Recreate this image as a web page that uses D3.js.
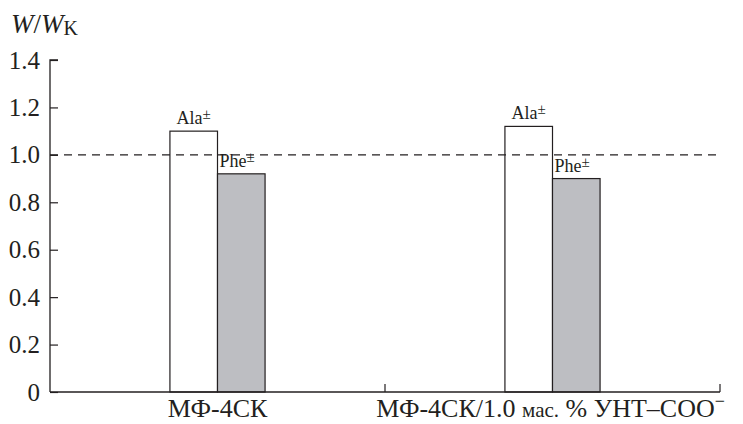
<!DOCTYPE html>
<html>
<head>
<meta charset="utf-8">
<script src="https://cdn.jsdelivr.net/npm/d3@7"></script>
<style>
  body { margin: 0; background: #fff; }
  svg { display: block; }
  svg text { font-family: "Liberation Serif", "DejaVu Serif", serif !important; }
</style>
</head>
<body>
<div id="chart"></div>
<script>
const categories = ["МФ-4СК", "МФ-4СК/1.0 мас. % УНТ–СОО"];
const series = ["Ala", "Phe"];
const alaValues = [1.10, 1.12];
const pheValues = [0.92, 0.90];
const yTicks = [0, 0.2, 0.4, 0.6, 0.8, 1.0, 1.2, 1.4];
const refLevel = 1.0;

const width = 743;
const height = 424;
const margin = { left: 50, right: 23, top: 60, bottom: 32 };
const ink = "#231f20";
const serif = "'Liberation Serif', serif";

const svg = d3.select("#chart").append("svg")
  .attr("width", width)
  .attr("height", height)
  .attr("font-family", serif);

const x = d3.scaleBand()
  .domain(categories)
  .range([margin.left, width - margin.right]);

const y = d3.scaleLinear()
  .domain([0, 1.4])
  .range([height - margin.bottom, margin.top]);

const barW = x.bandwidth() * 0.142;

const rows = categories.map((c, i) => ({ cat: c, ala: alaValues[i], phe: pheValues[i] }));

// bars
const g = svg.append("g");
rows.forEach((d) => {
  const cx = x(d.cat) + x.bandwidth() / 2;
  g.append("rect")
    .attr("x", cx - barW)
    .attr("y", y(d.ala))
    .attr("width", barW)
    .attr("height", y(0) - y(d.ala))
    .attr("fill", "#fff")
    .attr("stroke", ink)
    .attr("stroke-width", 1.2);
  g.append("rect")
    .attr("x", cx)
    .attr("y", y(d.phe))
    .attr("width", barW)
    .attr("height", y(0) - y(d.phe))
    .attr("fill", "#bdbec2")
    .attr("stroke", ink)
    .attr("stroke-width", 1.2);

  const ala = g.append("text")
    .attr("x", cx - barW / 2)
    .attr("y", y(d.ala) - 7)
    .attr("text-anchor", "middle")
    .style("font-size", "18px")
    .attr("fill", ink);
  ala.append("tspan").text(series[0]);
  ala.append("tspan").attr("dy", -5).style("font-size", "15px").text("±");

  const phe = g.append("text")
    .attr("x", cx + 2)
    .attr("y", y(d.phe) - 7)
    .style("font-size", "18px")
    .attr("fill", ink);
  phe.append("tspan").text(series[1]);
  phe.append("tspan").attr("dy", -5).style("font-size", "15px").text("±");
});

// reference dashed line
svg.append("line")
  .attr("x1", margin.left)
  .attr("x2", width - margin.right)
  .attr("y1", y(refLevel))
  .attr("y2", y(refLevel))
  .attr("stroke", ink)
  .attr("stroke-width", 1.2)
  .attr("stroke-dasharray", "8,6");

// y axis
const yAxis = svg.append("g")
  .attr("transform", `translate(${margin.left},0)`)
  .call(d3.axisRight(y).tickValues(yTicks).tickSize(8).tickFormat((d) => d === 0 ? "0" : d3.format(".1f")(d)))
  .attr("font-family", serif);
yAxis.select(".domain").attr("stroke", ink).attr("stroke-width", 1.3).attr("d", `M8,${y(1.4)}H0V${y(0)}`);
yAxis.selectAll(".tick line").attr("stroke", ink).attr("stroke-width", 1.2);
yAxis.selectAll(".tick text")
  .attr("x", -10)
  .attr("dy", "0.32em")
  .attr("text-anchor", "end")
  .style("font-size", "25px")
  .attr("fill", ink);

// x axis
const xAxisY = y(0);
svg.append("line")
  .attr("x1", margin.left)
  .attr("x2", width - margin.right)
  .attr("y1", xAxisY)
  .attr("y2", xAxisY)
  .attr("stroke", ink)
  .attr("stroke-width", 1.3);
const bounds = categories.map((c) => x(c) + x.bandwidth());
svg.append("g").selectAll("line")
  .data(bounds)
  .join("line")
  .attr("x1", (d) => d)
  .attr("x2", (d) => d)
  .attr("y1", xAxisY)
  .attr("y2", xAxisY - 8)
  .attr("stroke", ink)
  .attr("stroke-width", 1.2);

// category labels
const labelY = xAxisY + 25;
svg.append("text")
  .attr("x", x(categories[0]) + x.bandwidth() / 2)
  .attr("y", labelY)
  .attr("text-anchor", "middle")
  .style("font-size", "26px")
  .attr("fill", ink)
  .text(categories[0]);

const lbl2 = svg.append("text")
  .attr("x", x(categories[1]) + x.bandwidth() / 2 - 2)
  .attr("y", labelY)
  .attr("text-anchor", "middle")
  .style("font-size", "26px")
  .attr("fill", ink);
lbl2.append("tspan").text("МФ-4СК/1.0 ");
lbl2.append("tspan").style("font-size", "21px").text("мас.");
lbl2.append("tspan").text(" % УНТ–СОО");
lbl2.append("tspan").attr("dy", -10).style("font-size", "18px").text("−");

// y title
const title = svg.append("text")
  .attr("x", 11)
  .attr("y", 33)
  .style("font-size", "27px")
  .attr("fill", ink);
title.append("tspan").style("font-style", "italic").text("W");
title.append("tspan").text("/");
title.append("tspan").style("font-style", "italic").text("W");
title.append("tspan").attr("dy", 2).style("font-size", "20px").text("K");
</script>
</body>
</html>
